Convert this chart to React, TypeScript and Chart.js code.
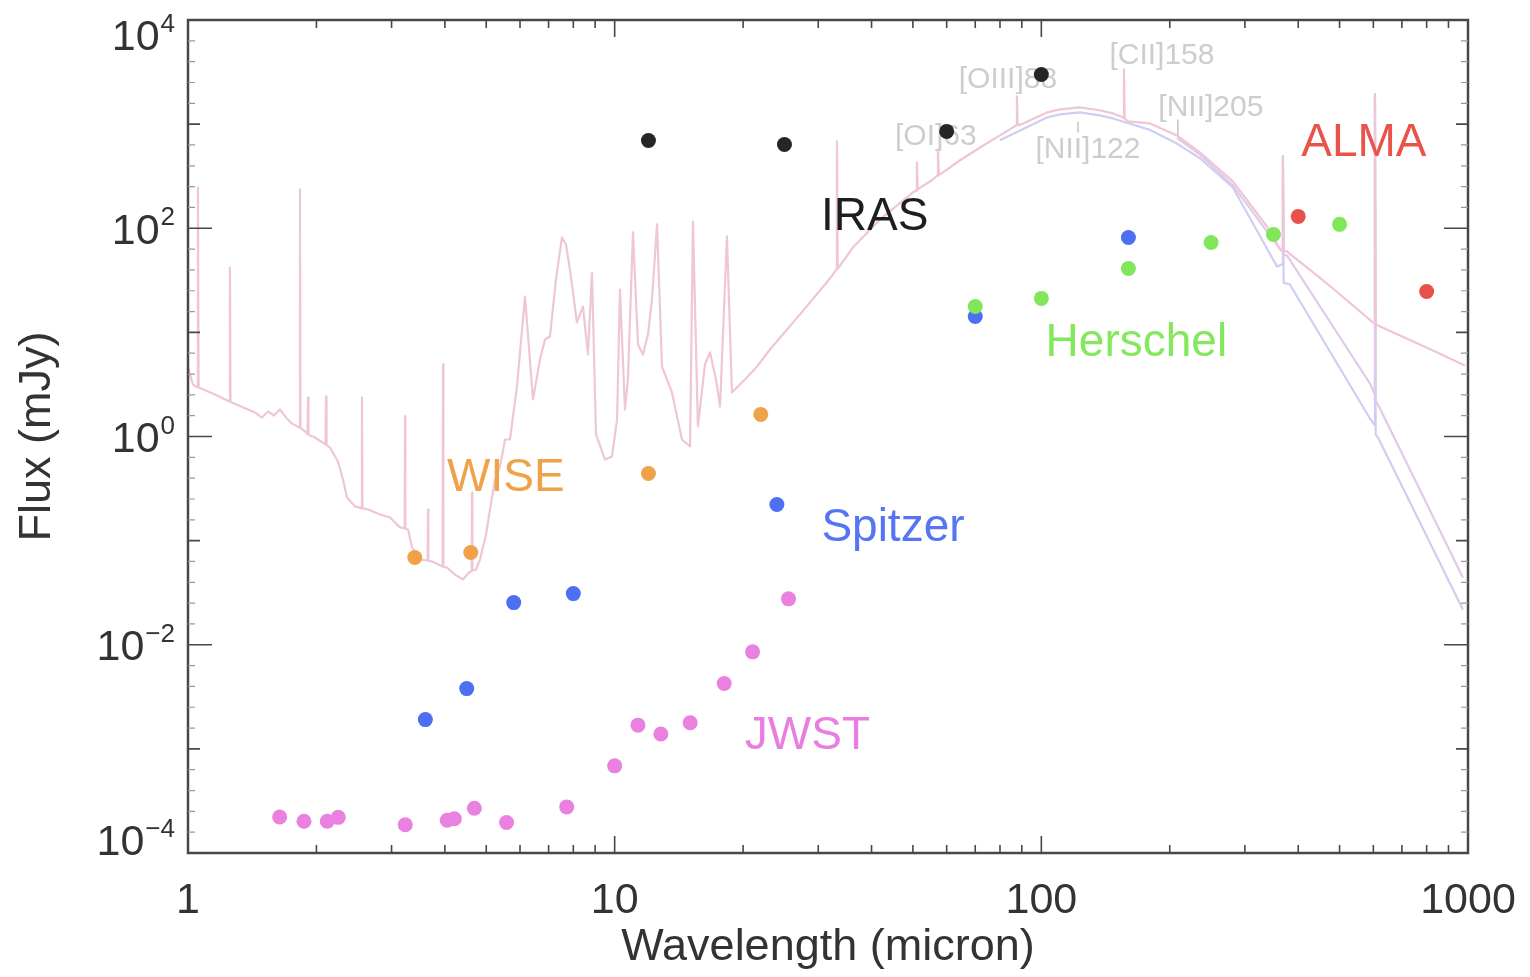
import React, { useEffect, useRef } from "react";
import { Chart, registerables } from "chart.js";

Chart.register(...registerables);

// ---------------- photometry (wavelength in micron, flux in mJy) ----------------
const irasWavelength = [12, 25, 60, 100];
const irasFlux = [697, 638, 851, 3000];

const wiseWavelength = [3.4, 4.6, 12, 22];
const wiseFlux = [0.0689, 0.0769, 0.441, 1.63];

const spitzerWavelength = [3.6, 4.5, 5.8, 8.0, 24, 70, 160];
const spitzerFlux = [0.00191, 0.00379, 0.0254, 0.031, 0.222, 14.2, 81.6];

const herschelWavelength = [70, 100, 160, 250, 350, 500];
const herschelFlux = [17.7, 21.2, 41.1, 73, 87.2, 109];

const almaWavelength = [400, 800];
const almaFlux = [130, 24.7];

const jwstWavelength = [1.64, 1.87, 2.12, 2.25, 3.23, 4.05, 4.21, 4.69, 5.58, 7.72, 10.0, 11.34, 12.83, 15.03, 18.06, 21.05, 25.55];
const jwstFlux = [2.22e-4, 2.02e-4, 2.02e-4, 2.2e-4, 1.87e-4, 2.06e-4, 2.13e-4, 2.69e-4, 1.96e-4, 2.77e-4, 6.87e-4, 1.69e-3, 1.39e-3, 1.78e-3, 4.24e-3, 8.55e-3, 0.0276];

// ---------------- model SED (main, pink) ----------------
const sedWavelength = [
  1.0, 1.027, 1.051, 1.055, 1.059, 1.157, 1.25, 1.254, 1.258, 1.436, 1.491, 1.54, 1.59, 1.643, 1.697, 1.753,
  1.825, 1.83, 1.835, 1.88, 1.906, 1.911, 1.916, 1.984, 2.1, 2.106, 2.112, 2.151, 2.246, 2.308, 2.359, 2.463,
  2.55, 2.557, 2.564, 2.642, 2.818, 2.975, 3.139, 3.22, 3.226, 3.232, 3.279, 3.35, 3.498, 3.645, 3.652, 3.659,
  3.731, 3.952, 3.96, 3.968, 4.046, 4.224, 4.411, 4.531, 4.622, 4.631, 4.64, 4.732, 4.834, 4.994, 5.103, 5.243,
  5.386, 5.533, 5.683, 5.902, 6.163, 6.436, 6.683, 6.866, 7.053, 7.285, 7.523, 7.688, 7.855, 8.157, 8.427, 8.657,
  8.847, 9.042, 9.49, 9.856, 10.13, 10.29, 10.57, 10.74, 11.04, 11.34, 11.65, 11.97, 12.23, 12.57, 12.91, 13.62,
  14.38, 15.02, 15.26, 15.67, 16.28, 16.73, 17.28, 17.66, 18.33, 18.83, 20.2, 21.56, 23.12, 27.19, 31.11, 32.48,
  33.05, 33.19, 33.33, 33.91, 36.19, 41.86, 50.02, 50.9, 51.1, 51.3, 52.51, 55.71, 57.0, 57.25, 57.5, 58.81,
  64.5, 71.8, 80.0, 85.8, 87.3, 87.66, 88.0, 89.6, 103.1, 110.6, 123.1, 137.1, 147.2, 153.7, 155.6, 156.2,
  156.8, 159.6, 179.7, 207.9, 235.3, 281.2, 308.3, 337.9, 362.4, 366.8, 368.3, 369.8, 376.3, 482.4, 595.6, 603,
  605.3, 607.5, 615.2, 827.8, 983,
];
const sedFlux = [
  4.6, 3.16, 2.98, 246, 2.95, 2.53, 2.17, 42.0, 2.15, 1.7, 1.52, 1.74, 1.59, 1.82, 1.52, 1.33,
  1.22, 236, 1.21, 1.12, 1.05, 2.37, 1.04, 0.978, 0.84, 2.42, 0.83, 0.784, 0.575, 0.386, 0.259, 0.213,
  0.205, 2.37, 0.204, 0.199, 0.178, 0.167, 0.134, 0.131, 1.56, 0.13, 0.128, 0.0859, 0.0658, 0.0644, 0.199, 0.064,
  0.063, 0.0564, 4.92, 0.0562, 0.0551, 0.0472, 0.0423, 0.0483, 0.0516, 0.29, 0.0516, 0.0528, 0.0658, 0.114, 0.199, 0.386,
  0.515, 0.936, 0.936, 3.02, 22.1, 2.27, 5.49, 8.55, 9.13, 32.2, 81.6, 69.9, 40.2, 12.45, 17.7, 6.13,
  37.6, 1.05, 0.601, 0.642, 1.46, 25.8, 1.82, 3.53, 91.1, 7.65, 6.13, 9.54, 20.7, 109, 4.7, 2.65,
  0.936, 0.802, 116, 1.25, 4.92, 6.41, 3.53, 1.94, 83.4, 2.65, 3.53, 4.7, 6.85, 14.9, 28.8, 36.0,
  40, 682, 41, 44.9, 65.4, 121.5, 221, 230, 429, 235, 252, 294, 320, 571, 325, 344,
  450, 597, 779, 930, 970, 1845, 975, 993, 1295, 1384, 1447, 1360, 1267, 1186, 1150, 3353,
  1130, 1061, 1016, 779, 535, 282, 171, 104, 62.6, 61, 490, 60.5, 59.9, 26.4, 12.7, 12.2,
  1929, 12.1, 11.65, 6.7, 4.81,
];

// ---------------- alternative models (long wavelength) ----------------
const modelAWavelength = [80.0, 103.1, 110.6, 123.1, 137.1, 147.2, 179.7, 207.9, 235.3, 281.2, 356.6, 366.8, 368.3, 369.8, 382.4, 589.1, 603, 605.3, 607.5, 615.2, 972.7];
const modelAFlux = [700, 1160, 1239, 1295, 1212, 1134, 880, 650, 470, 246, 43.0, 45, 490, 30, 28.8, 1.49, 1.3, 1929, 1.05, 0.978, 0.0218];

const modelBWavelength = [207.9, 235.3, 281.2, 337.9, 366.8, 368.3, 369.8, 376.3, 589.1, 603, 605.3, 607.5, 615.2, 972.7];
const modelBFlux = [740, 510, 258, 93.2, 60, 490, 56, 54.8, 3.23, 2.6, 1929, 2.2, 2.03, 0.0442];

// ---------------- text annotations ----------------
const instrumentNames = ["IRAS", "WISE", "Spitzer", "Herschel", "ALMA", "JWST"];
const instrumentLabelWavelength = [40.7, 5.56, 44.9, 167, 570, 28.3];
const instrumentLabelFlux = [140, 0.431, 0.1443, 8.45, 705, 1.42e-3];
const instrumentColors = ["#1e1e1e", "#f0a24a", "#5575f4", "#84e85c", "#e8544a", "#ea7ee0"];

const lineNames = ["[OI]63", "[OIII]88", "[NII]122", "[CII]158", "[NII]205"];
const lineLabelWavelength = [56.6, 83.5, 128.6, 191.7, 249.7];
const lineLabelFlux = [796, 2810, 597, 4780, 1512];
const lineTickWavelength = [121.9, 208.9];
const lineTickTop = [1061, 1110];
const lineTickBottom = [832, 779];

// ---------------- axes ----------------
const xTickValues = [1, 10, 100, 1000];
const xTickLabels = ["1", "10", "100", "1000"];
const yTickValues = [1e-4, 1e-2, 1, 1e2, 1e4];
const yTickExponents = ["\u22124", "\u22122", "0", "2", "4"];
const xTitle = "Wavelength (micron)";
const yTitle = "Flux (mJy)";

const FONT = '"Liberation Sans", Arial, Helvetica, sans-serif';

function pts(xs: number[], ys: number[]) {
  return xs.map((x, i) => ({ x, y: ys[i] }));
}

const decorPlugin = {
  id: "decor",
  beforeDatasetsDraw(chart: any) {
    const { ctx, scales } = chart;
    const xs = scales.x;
    const ys = scales.y;
    ctx.save();
    ctx.fillStyle = "#cdcdcd";
    ctx.font = `30px ${FONT}`;
    ctx.textAlign = "center";
    ctx.textBaseline = "alphabetic";
    lineNames.forEach((name, i) => {
      const px = xs.getPixelForValue(lineLabelWavelength[i]);
      const py = ys.getPixelForValue(lineLabelFlux[i]);
      ctx.fillText(name, px, py + 0.358 * 30);
    });
    ctx.strokeStyle = "#c4c4c4";
    ctx.lineWidth = 1.5;
    lineTickWavelength.forEach((w, i) => {
      const px = xs.getPixelForValue(w);
      ctx.beginPath();
      ctx.moveTo(px, ys.getPixelForValue(lineTickTop[i]));
      ctx.lineTo(px, ys.getPixelForValue(lineTickBottom[i]));
      ctx.stroke();
    });
    ctx.restore();
  },
  afterDraw(chart: any) {
    const { ctx, chartArea: a, scales } = chart;
    const xs = scales.x;
    const ys = scales.y;
    ctx.save();

    // instrument labels
    ctx.textAlign = "center";
    ctx.textBaseline = "alphabetic";
    ctx.font = `46px ${FONT}`;
    instrumentNames.forEach((name, i) => {
      ctx.fillStyle = instrumentColors[i];
      const px = xs.getPixelForValue(instrumentLabelWavelength[i]);
      const py = ys.getPixelForValue(instrumentLabelFlux[i]);
      ctx.fillText(name, px, py + 0.358 * 46);
    });

    // frame
    ctx.strokeStyle = "#474747";
    ctx.lineWidth = 2.5;
    ctx.strokeRect(a.left, a.top, a.right - a.left, a.bottom - a.top);

    // x ticks (bottom and top, pointing inward)
    ctx.lineWidth = 1.6;
    for (let e = 0; e < 3; e++) {
      for (let m = 1; m < 10; m++) {
        const px = xs.getPixelForValue(m * Math.pow(10, e));
        const len = m === 1 ? 17 : 8;
        ctx.beginPath();
        ctx.moveTo(px, a.bottom);
        ctx.lineTo(px, a.bottom - len);
        ctx.moveTo(px, a.top);
        ctx.lineTo(px, a.top + len);
        ctx.stroke();
      }
    }
    // y ticks (left and right)
    for (let e = -4; e < 4; e++) {
      const py = ys.getPixelForValue(Math.pow(10, e));
      const len = e % 2 === 0 ? 24 : 12;
      ctx.strokeStyle = "#474747";
      ctx.beginPath();
      ctx.moveTo(a.left, py);
      ctx.lineTo(a.left + len, py);
      ctx.moveTo(a.right, py);
      ctx.lineTo(a.right - len, py);
      ctx.stroke();
      ctx.strokeStyle = "#9a9a9a";
      ctx.lineWidth = 1.2;
      for (let f = 1; f < 5; f++) {
        const pm = ys.getPixelForValue(Math.pow(10, e + f * 0.2));
        ctx.beginPath();
        ctx.moveTo(a.left, pm);
        ctx.lineTo(a.left + 7, pm);
        ctx.moveTo(a.right, pm);
        ctx.lineTo(a.right - 7, pm);
        ctx.stroke();
      }
      ctx.lineWidth = 1.6;
    }

    // x tick labels
    ctx.fillStyle = "#333333";
    ctx.font = `43px ${FONT}`;
    ctx.textAlign = "center";
    xTickValues.forEach((v, i) => {
      ctx.fillText(xTickLabels[i], xs.getPixelForValue(v), a.bottom + 60);
    });

    // y tick labels with superscript exponent
    yTickValues.forEach((v, i) => {
      let cy = ys.getPixelForValue(v);
      cy = Math.max(a.top + 15, Math.min(a.bottom - 13, cy));
      const right = a.left - 13;
      ctx.font = `26px ${FONT}`;
      ctx.textAlign = "right";
      const ew = ctx.measureText(yTickExponents[i]).width;
      ctx.fillText(yTickExponents[i], right, cy - 3);
      ctx.font = `43px ${FONT}`;
      ctx.fillText("10", right - ew - 1, cy + 15.4);
    });

    // axis titles
    ctx.font = `45px ${FONT}`;
    ctx.textAlign = "center";
    ctx.fillText(xTitle, (a.left + a.right) / 2, a.bottom + 107);
    ctx.save();
    ctx.translate(a.left - 138, (a.top + a.bottom) / 2);
    ctx.rotate(-Math.PI / 2);
    ctx.fillText(yTitle, 0, 0);
    ctx.restore();

    ctx.restore();
  },
};

export default function App() {
  const ref = useRef<HTMLCanvasElement>(null);

  useEffect(() => {
    const canvas = ref.current;
    if (!canvas) return;
    const pointDs = (label: string, xs: number[], ys: number[], color: string, order: number) => ({
      label,
      data: pts(xs, ys),
      showLine: false,
      pointRadius: 7.5,
      pointBorderWidth: 0,
      pointBackgroundColor: color,
      borderColor: color,
      backgroundColor: color,
      order,
    });
    const lineDs = (label: string, xs: number[], ys: number[], color: string, order: number) => ({
      label,
      data: pts(xs, ys),
      showLine: true,
      pointRadius: 0,
      borderWidth: 2.2,
      borderColor: color,
      backgroundColor: color,
      tension: 0,
      borderJoinStyle: "round",
      order,
    });

    const chart = new Chart(canvas, {
      type: "scatter",
      data: {
        datasets: [
          pointDs("JWST", jwstWavelength, jwstFlux, "#ea80e0", 0),
          pointDs("ALMA", almaWavelength, almaFlux, "#e8524a", 0),
          pointDs("Herschel", herschelWavelength, herschelFlux, "#80e65a", 0),
          pointDs("Spitzer", spitzerWavelength, spitzerFlux, "#4d6ff2", 1),
          pointDs("WISE", wiseWavelength, wiseFlux, "#f0a24a", 1),
          pointDs("IRAS", irasWavelength, irasFlux, "#262626", 1),
          lineDs("SED", sedWavelength, sedFlux, "rgba(238,198,214,1)", 2),
          lineDs("Model B", modelBWavelength, modelBFlux, "rgba(224,202,232,1)", 3),
          lineDs("Model A", modelAWavelength, modelAFlux, "rgba(206,206,242,1)", 4),
        ],
      } as any,
      options: {
        animation: false,
        responsive: false,
        events: [],
        layout: { padding: { left: 188, top: 20, right: 62, bottom: 124 } },
        plugins: { legend: { display: false }, tooltip: { enabled: false } },
        scales: {
          x: { type: "logarithmic", min: 1, max: 1000, display: false },
          y: { type: "logarithmic", min: 1e-4, max: 1e4, display: false },
        },
      } as any,
      plugins: [decorPlugin],
    });
    return () => chart.destroy();
  }, []);

  return (
    <div style={{ position: "absolute", left: 0, top: 0, width: 1530, height: 977, background: "#ffffff" }}>
      <canvas ref={ref} width={1530} height={977} style={{ display: "block", width: 1530, height: 977 }} />
    </div>
  );
}
